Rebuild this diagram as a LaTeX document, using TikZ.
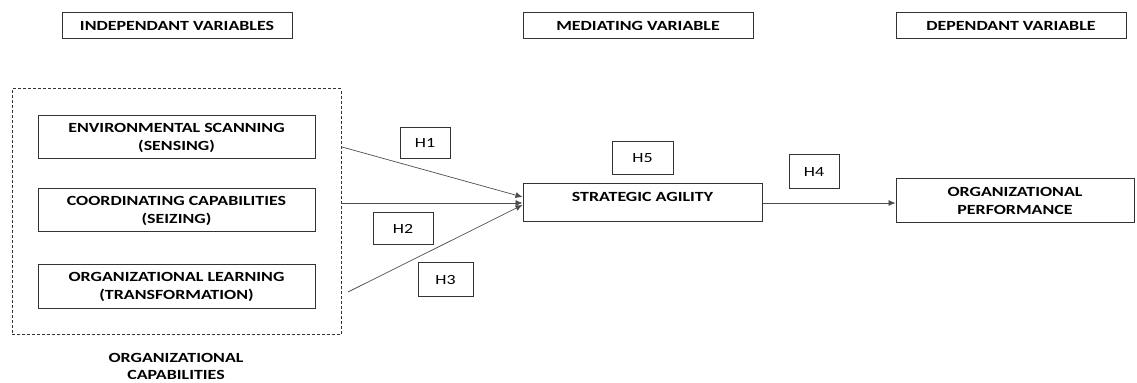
\documentclass[tikz,border=0pt]{standalone}
\usepackage{fontspec}
\setmainfont{Carlito}[FakeStretch=1.28]
\usetikzlibrary{arrows.meta}
\begin{document}
\begin{tikzpicture}[x=0.5pt,y=-0.5pt,
    box/.style={draw=black!80,line width=0.5pt,inner sep=0pt,align=center,
        font=\fontsize{7}{9}\selectfont\bfseries},
    hbox/.style={draw=black!80,line width=0.5pt,inner sep=0pt,
        font=\fontsize{7}{8}\selectfont},
    link/.style={draw=black!70,line width=0.35pt,-{Latex[length=3.5pt,width=3pt]}}]
            \useasboundingbox (0,0) rectangle (1137,383);
            % column headings
            \node[box,minimum width=115pt,minimum height=13pt] (indep) at (177,25.5) {INDEPENDANT VARIABLES};
            \node[box,minimum width=115pt,minimum height=13pt] (medi) at (638,25.5) {MEDIATING VARIABLE};
            \node[box,minimum width=115pt,minimum height=13pt] (dep) at (1011,25.5) {DEPENDANT VARIABLE};
            % organizational capabilities
            \node[draw=black!80,line width=0.5pt,dash pattern=on 1.5pt off 1pt,
                minimum width=164.5pt,minimum height=123pt] (caps) at (176.5,212) {};
            \node[box,minimum width=138.5pt,minimum height=21.5pt] (env) at (176.5,137.5) {ENVIRONMENTAL SCANNING\\(SENSING)};
            \node[box,minimum width=138.5pt,minimum height=21.5pt] (coord) at (176.5,210.5) {COORDINATING CAPABILITIES\\(SEIZING)};
            \node[box,minimum width=138.5pt,minimum height=22pt] (learn) at (176.5,287) {ORGANIZATIONAL LEARNING\\(TRANSFORMATION)};
            \node[box,draw=none,font=\fontsize{7}{8.5}\selectfont\bfseries] (capslbl) at (176,366) {ORGANIZATIONAL\\CAPABILITIES};
            % mediator and outcome
            \node[box,minimum width=119.5pt,minimum height=19pt] (agility) at (642.5,203) {};
            \node[box,draw=none] (agilitytxt) at (642.5,197) {STRATEGIC AGILITY};
            \node[box,minimum width=119pt,minimum height=22pt] (perf) at (1015,201) {ORGANIZATIONAL\\PERFORMANCE};
            % hypotheses
            \node[hbox,minimum width=25pt,minimum height=15.5pt] (h1) at (425,143.5) {H1};
            \node[hbox,minimum width=30pt,minimum height=16pt] (h2) at (403,229) {H2};
            \node[hbox,minimum width=27.5pt,minimum height=17pt] (h3) at (445.5,280) {H3};
            \node[hbox,minimum width=30.5pt,minimum height=16.5pt] (h5) at (642.5,158.5) {H5};
            \node[hbox,minimum width=25pt,minimum height=17pt] (h4) at (814,172) {H4};
            % paths
            \coordinate (s1) at (342,147);
            \coordinate (s2) at (342,203);
            \coordinate (s3) at (348,292);
            \draw[link] (s1) -- ([yshift=3pt]agility.west);
            \draw[link] (s2) -- (agility.west);
            \draw[link] (s3) -- ([yshift=-1pt]agility.west);
            \draw[link] (agility.east) -- (agility.east -| perf.west);
        \end{tikzpicture}
\end{document}
